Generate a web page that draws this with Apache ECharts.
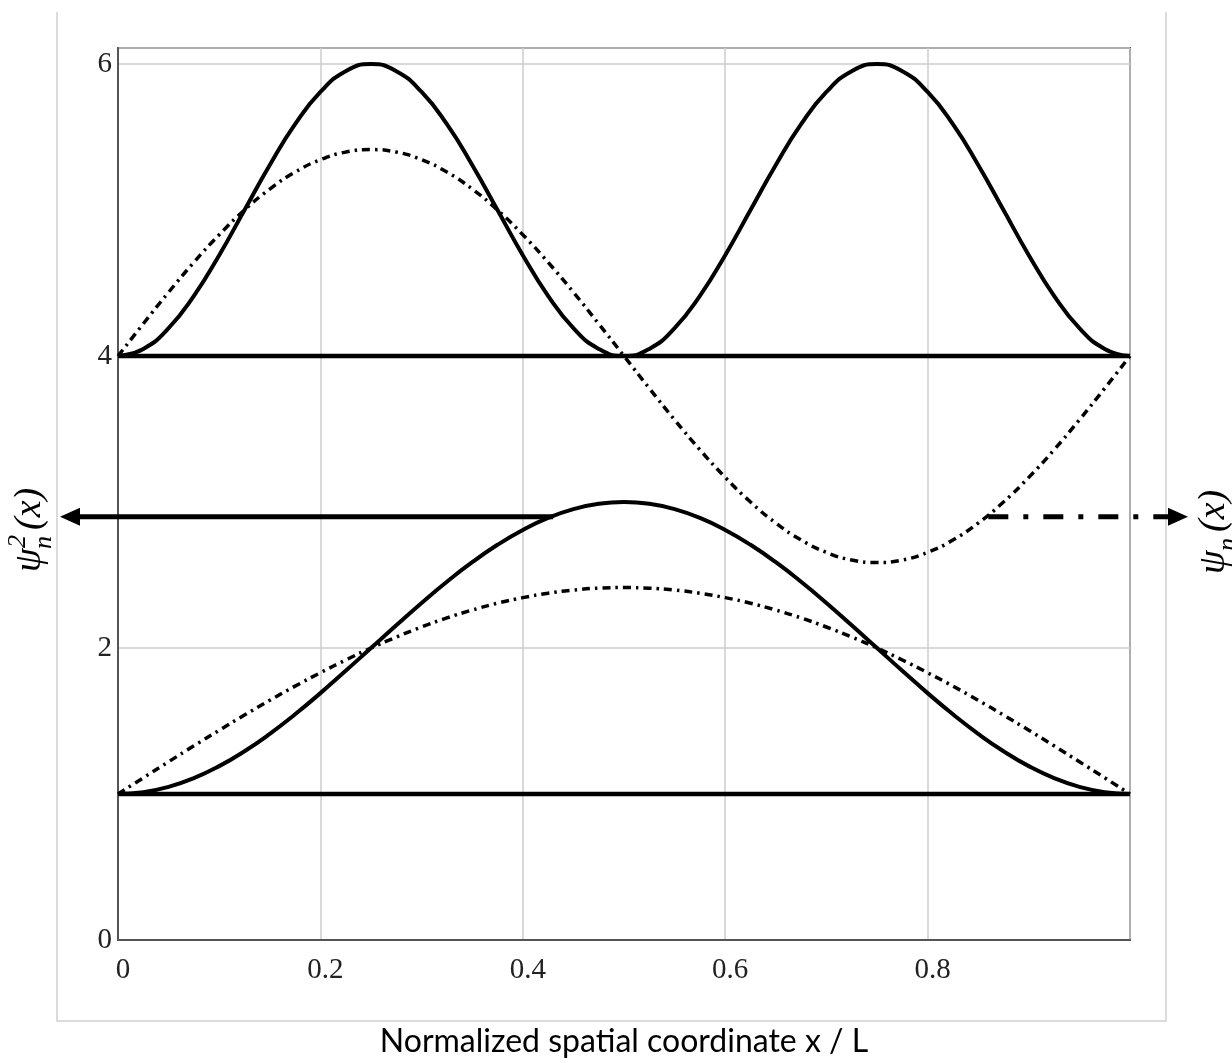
<!DOCTYPE html>
<html style="height: 100%">
<head>
    <meta charset="utf-8">
    <title>Wavefunctions</title>
    <script src="https://cdn.jsdelivr.net/npm/echarts@6/dist/echarts.min.js"></script>
    <style>
        body { margin: 0; background: #fff; }
        #main { width: 1232px; height: 1063px; }
    </style>
</head>
<body>
<div id="main"></div>
<script>
    // x / L sample positions
    const xs = [0, 0.025, 0.05, 0.075, 0.1, 0.125, 0.15, 0.175, 0.2, 0.225, 0.25, 0.275, 0.3, 0.325, 0.35, 0.375, 0.4, 0.425, 0.45, 0.475, 0.5,
        0.525, 0.55, 0.575, 0.6, 0.625, 0.65, 0.675, 0.7, 0.725, 0.75, 0.775, 0.8, 0.825, 0.85, 0.875, 0.9, 0.925, 0.95, 0.975, 1];

    // n = 1, offset 1
    const psi1Sq = [1.000, 1.012, 1.049, 1.109, 1.191, 1.293, 1.412, 1.546, 1.691, 1.844, 2.000, 2.156, 2.309, 2.454, 2.588, 2.707, 2.809, 2.891, 2.951, 2.988, 3.000,
        2.988, 2.951, 2.891, 2.809, 2.707, 2.588, 2.454, 2.309, 2.156, 2.000, 1.844, 1.691, 1.546, 1.412, 1.293, 1.191, 1.109, 1.049, 1.012, 1.000];
    const psi1 = [1.000, 1.111, 1.221, 1.330, 1.437, 1.541, 1.642, 1.739, 1.831, 1.918, 2.000, 2.075, 2.144, 2.206, 2.260, 2.307, 2.345, 2.375, 2.397, 2.410, 2.414,
        2.410, 2.397, 2.375, 2.345, 2.307, 2.260, 2.206, 2.144, 2.075, 2.000, 1.918, 1.831, 1.739, 1.642, 1.541, 1.437, 1.330, 1.221, 1.111, 1.000];

    // n = 2, offset 4
    const psi2Sq = [4.000, 4.049, 4.191, 4.412, 4.691, 5.000, 5.309, 5.588, 5.809, 5.951, 6.000, 5.951, 5.809, 5.588, 5.309, 5.000, 4.691, 4.412, 4.191, 4.049, 4.000,
        4.049, 4.191, 4.412, 4.691, 5.000, 5.309, 5.588, 5.809, 5.951, 6.000, 5.951, 5.809, 5.588, 5.309, 5.000, 4.691, 4.412, 4.191, 4.049, 4.000];
    const psi2 = [4.000, 4.221, 4.437, 4.642, 4.831, 5.000, 5.144, 5.260, 5.345, 5.397, 5.414, 5.397, 5.345, 5.260, 5.144, 5.000, 4.831, 4.642, 4.437, 4.221, 4.000,
        3.779, 3.563, 3.358, 3.169, 3.000, 2.856, 2.740, 2.655, 2.603, 2.586, 2.603, 2.655, 2.740, 2.856, 3.000, 3.169, 3.358, 3.563, 3.779, 4.000];

    // energy levels (baselines)
    const levels = [1, 4];
    const xTicks = [0, 0.2, 0.4, 0.6, 0.8];
    const yTicks = [0, 2, 4, 6];

    // arrows: start point on the curves [x, y]
    const leftArrowStart = [0.43, 2.9];
    const rightArrowStart = [0.86, 2.9];

    const zip = vals => xs.map((x, i) => [x, vals[i]]);
    const solid = { color: '#000', width: 4 };
    const dashDot = { color: '#000', width: 3.5, type: [8, 5, 2.5, 5] };
    const tickFont = '"Liberation Serif", "Times New Roman", serif';

    const chart = echarts.init(document.getElementById('main'));

    const series = [
        { data: zip(psi1Sq), lineStyle: solid },
        { data: zip(psi1), lineStyle: dashDot },
        { data: zip(psi2Sq), lineStyle: solid },
        { data: zip(psi2), lineStyle: dashDot }
    ].map(s => Object.assign({ type: 'line', smooth: 0.5, symbol: 'none', z: 3 }, s));

    levels.forEach(lv => {
        series.push({
            type: 'line', symbol: 'none', z: 4,
            data: [[0, lv], [1, lv]],
            lineStyle: { color: '#000', width: 4.5 }
        });
    });

    chart.setOption({
        animation: false,
        backgroundColor: '#fff',
        grid: {
            left: 118, right: 102, top: 48, bottom: 122,
            show: true, borderColor: '#555', borderWidth: 2
        },
        xAxis: {
            type: 'value', min: 0, max: 1, interval: 0.2,
            name: 'Normalized spatial coordinate x / L',
            nameLocation: 'middle', nameGap: 86,
            nameTextStyle: { fontFamily: 'Lato, "Open Sans", sans-serif', fontSize: 32, color: '#000' },
            axisLine: { show: true, lineStyle: { color: '#555', width: 2 } },
            axisTick: { show: false },
            axisLabel: {
                fontFamily: tickFont, fontSize: 29, color: '#222', margin: 16, padding: [0, 0, 0, 10],
                formatter: v => xTicks.some(t => Math.abs(t - v) < 1e-9) ? String(v) : ''
            },
            splitLine: { show: true, lineStyle: { color: '#ccc', width: 1.5 } }
        },
        yAxis: {
            type: 'value', min: 0, max: 6.11, interval: 2,
            axisLine: { show: true, lineStyle: { color: '#555', width: 2 } },
            axisTick: { show: false },
            axisLabel: {
                fontFamily: tickFont, fontSize: 29, color: '#222', margin: 6, padding: [8, 0, 0, 0],
                formatter: v => yTicks.indexOf(v) >= 0 ? String(v) : ''
            },
            splitLine: { show: true, lineStyle: { color: '#ccc', width: 1.5 } }
        },
        series: series
    });

    // annotations: outer frame, arrows and side labels
    const p1 = chart.convertToPixel({ gridIndex: 0 }, leftArrowStart);
    const p2 = chart.convertToPixel({ gridIndex: 0 }, rightArrowStart);
    const ay = p1[1];
    const mathFont = 'italic 38px "Liberation Serif", "DejaVu Serif", serif';
    const mathSmall = 'italic 26px "Liberation Serif", "DejaVu Serif", serif';

    const sideLabel = (cx, cy, withSquare) => ({
        type: 'group', x: cx, y: cy, rotation: Math.PI / 2,
        children: [
            { type: 'text', x: -52, y: 0, style: { text: 'ψ', font: mathFont, fill: '#000', verticalAlign: 'middle', align: 'left' } },
            withSquare ? { type: 'text', x: -28, y: -12, style: { text: '2', font: mathSmall, fill: '#000', verticalAlign: 'middle', align: 'left' } } : null,
            { type: 'text', x: -29, y: 14, style: { text: 'n', font: mathSmall, fill: '#000', verticalAlign: 'middle', align: 'left' } },
            { type: 'text', x: -10, y: 0, style: { text: '(x)', font: mathFont, fill: '#000', verticalAlign: 'middle', align: 'left' } }
        ].filter(Boolean)
    });

    chart.setOption({
        graphic: [
            { type: 'polyline', shape: { points: [[57, 12], [57, 1021], [1166, 1021], [1166, 12]] },
              style: { stroke: '#d0d0d0', lineWidth: 1.5, fill: null }, z: 0 },
            // left arrow (solid) -> psi^2
            { type: 'line', shape: { x1: p1[0], y1: ay, x2: 78, y2: ay }, style: { stroke: '#000', lineWidth: 5 }, z: 10 },
            { type: 'polygon', shape: { points: [[60, ay], [80, ay - 9], [80, ay + 9]] }, style: { fill: '#000' }, z: 10 },
            // right arrow (dash-dot) -> psi
            { type: 'line', shape: { x1: p2[0], y1: ay, x2: 1170, y2: ay },
              style: { stroke: '#000', lineWidth: 5, lineDash: [20, 15, 5, 15] }, z: 10 },
            { type: 'polygon', shape: { points: [[1188, ay], [1168, ay - 9], [1168, ay + 9]] }, style: { fill: '#000' }, z: 10 },
            sideLabel(30, 520, true),
            sideLabel(1214, 522, false)
        ]
    });
</script>
</body>
</html>
